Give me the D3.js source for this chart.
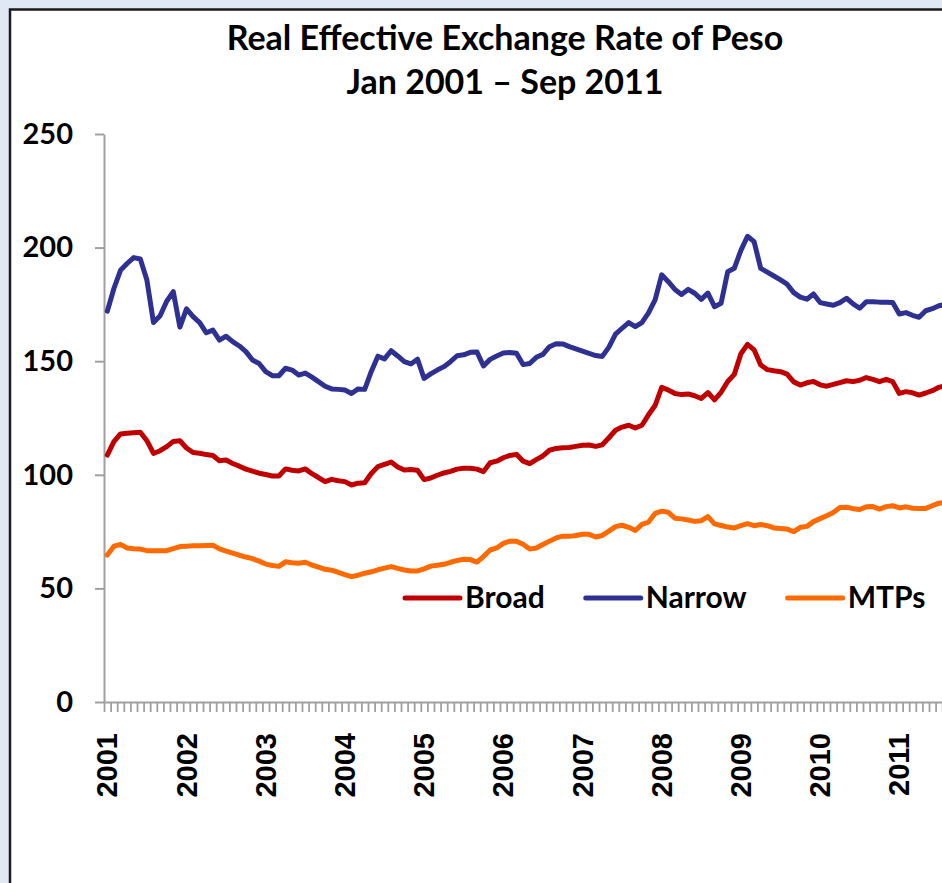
<!DOCTYPE html>
<html>
<head>
<meta charset="utf-8">
<script src="https://cdn.jsdelivr.net/npm/d3@7"></script>
<style>
  body { margin: 0; background: #e1e8f5; }
</style>
</head>
<body>
<script>
// Dimensions de la page
const largeur = 942;
const hauteur = 883;

// Données (indices mensuels, Jan 2001 - Sep 2011)
const annees = ["2001", "2002", "2003", "2004", "2005", "2006", "2007", "2008", "2009", "2010", "2011"];
const nomsSeries = ["Broad", "Narrow", "MTPs"];
const couleursSeries = ["#c00000", "#2e3192", "#ff6a00"];
const ticksY = [0, 50, 100, 150, 200, 250];

const broad = [
  108.7, 114.6, 118, 118.3, 118.5, 118.7, 115, 109.4, 110.6, 112.4, 114.7, 115,
  111.8, 109.8, 109.5, 108.9, 108.5, 106.2, 106.5, 105, 103.8, 102.5, 101.6, 100.7,
  100.1, 99.5, 99.5, 102.6, 102, 101.7, 102.6, 100.5, 98.8, 97, 98, 97.4,
  97, 95.5, 96.3, 96.5, 100.6, 103.6, 104.6, 105.6, 103.4, 102.1, 102.3, 102,
  97.9, 98.6, 99.8, 100.8, 101.5, 102.5, 102.9, 102.9, 102.5, 101.4, 105.3, 106,
  107.5, 108.5, 109, 106, 104.9, 106.7, 108.3, 110.8, 111.6, 111.9, 112, 112.5,
  113, 113.1, 112.5, 113.2, 116.3, 119.6, 121, 121.8, 120.6, 121.8, 126.4, 130.5,
  138.5, 137.3, 135.8, 135.3, 135.6, 134.8, 133.6, 136.2, 133, 136.3, 141.1, 144.2,
  153.3, 157.4, 155, 148.3, 146.3, 145.8, 145.4, 144.3, 140.9, 139.5, 140.5, 141.1,
  139.6, 139, 139.8, 140.6, 141.4, 141, 141.6, 142.8, 142, 141, 142, 141,
  135.8, 136.6, 136.1, 135.1, 136, 137, 138.5, 139.3, 140
];

const narrow = [
  172, 182, 190, 193, 195.6, 195, 185.7, 167, 170, 176.4, 180.6, 165,
  173, 169.6, 167, 162.5, 163.7, 159.3, 161, 158.6, 156.7, 154.2, 150.5, 149,
  145.4, 143.6, 143.6, 146.9, 146.1, 143.9, 144.8, 143, 141, 139, 137.8, 137.6,
  137.3, 135.8, 137.8, 137.6, 145.5, 152.2, 151, 154.6, 152.3, 149.8, 148.8, 150.9,
  142.4, 144.4, 146.1, 147.6, 149.8, 152.4, 152.8, 153.9, 154.1, 147.9, 150.8, 152.3,
  153.6, 153.8, 153.5, 148.5, 149, 151.7, 153, 156.4, 157.7, 157.6, 156.4, 155.4,
  154.4, 153.4, 152.5, 152.1, 156.2, 161.9, 164.5, 167, 165.2, 167, 171.3, 177,
  188, 185, 181.6, 179.4, 181.6, 179.9, 177.2, 180, 174, 175.5, 189.4, 190.9,
  198.8, 205, 202.6, 190.9, 189.2, 187.5, 185.8, 183.9, 180.2, 178.2, 177.3, 179.6,
  175.8, 175.2, 174.6, 175.8, 177.7, 175.2, 173.3, 176.2, 176.2, 176, 175.9, 175.8,
  170.8, 171.4, 170.2, 169.3, 172.2, 173.1, 174.4, 175, 175.5
];

const mtps = [
  64.7, 68.6, 69.4, 67.8, 67.5, 67.3, 66.6, 66.6, 66.6, 66.6, 67.5, 68.4,
  68.6, 68.8, 68.8, 68.9, 69, 67.4, 66.4, 65.5, 64.6, 63.8, 63.1, 62,
  60.7, 60.1, 59.7, 61.7, 61.3, 61.1, 61.5, 60.3, 59.4, 58.4, 58, 57.1,
  56.1, 55.2, 55.8, 56.7, 57.3, 58.2, 58.9, 59.6, 58.8, 58.1, 57.7, 57.7,
  58.6, 59.8, 60.2, 60.6, 61.5, 62.3, 62.8, 62.7, 61.6, 64, 66.9, 67.8,
  69.8, 70.8, 70.7, 69.4, 67.3, 67.8, 69.3, 70.8, 72.2, 73, 72.9, 73.3,
  73.8, 73.8, 72.6, 73.3, 75.2, 77.2, 77.8, 76.9, 75.5, 78.2, 79.2, 83,
  84, 83.5, 80.9, 80.6, 80.1, 79.5, 79.8, 81.6, 78.4, 77.7, 77, 76.6,
  77.6, 78.5, 77.6, 78.1, 77.6, 76.6, 76.4, 76.1, 75, 76.9, 77.3, 79.4,
  80.7, 82, 83.4, 85.6, 85.7, 85.1, 84.7, 85.9, 86, 84.9, 86, 86.4,
  85.4, 85.9, 85.3, 85.2, 85.2, 86.4, 87.5, 88, 88
];

const series = [broad, narrow, mtps];
const nbMois = broad.length;

// Zone du graphique
const gauche = 104;
const largeurMois = 6.6;
const haut = 134;
const bas = 702;

const svg = d3.select("body").append("svg")
    .attr("width", largeur)
    .attr("height", hauteur)
    .style("display", "block");

// fond + cadre
svg.append("rect")
    .attr("width", largeur)
    .attr("height", hauteur)
    .attr("fill", "#e1e8f5");

svg.append("rect")
    .attr("x", 10)
    .attr("y", 9.5)
    .attr("width", 1000)
    .attr("height", 1000)
    .attr("fill", "white")
    .attr("stroke", "#1a1a1a")
    .attr("stroke-width", 2.5);

// Echelles
const x = d3.scaleLinear()
    .domain([0, nbMois])
    .range([gauche, gauche + nbMois * largeurMois]);

const y = d3.scaleLinear()
    .domain([0, 250])
    .range([bas, haut]);

// Titre
const titre = svg.append("text")
    .attr("x", 505)
    .attr("text-anchor", "middle")
    .style("font-family", "Lato, 'Open Sans', sans-serif")
    .style("font-weight", "bold")
    .style("font-size", "34px")
    .attr("fill", "#000");
titre.append("tspan").attr("x", 505).attr("y", 50).text("Real Effective Exchange Rate of Peso");
titre.append("tspan").attr("x", 505).attr("y", 94).text("Jan 2001 \u2013 Sep 2011");

// Axe Y
const axeY = svg.append("g")
    .attr("transform", `translate(${gauche},0)`)
    .call(d3.axisLeft(y).tickValues(ticksY).tickSize(9).tickPadding(22).tickSizeOuter(0));
axeY.select(".domain").attr("stroke", "#a0a0a0").attr("stroke-width", 2);
axeY.selectAll(".tick line").attr("stroke", "#a0a0a0").attr("stroke-width", 2);
axeY.selectAll(".tick text")
    .style("font-family", "Lato, 'Open Sans', sans-serif")
    .style("font-weight", "bold")
    .style("font-size", "29px")
    .attr("fill", "#000");

// Axe X : un tick par mois
const axeX = svg.append("g")
    .attr("transform", `translate(0,${bas})`)
    .call(d3.axisBottom(x).tickValues(d3.range(0, nbMois + 1)).tickSize(10).tickSizeOuter(0).tickFormat(""));
axeX.select(".domain").attr("stroke", "#a0a0a0").attr("stroke-width", 2);
axeX.selectAll(".tick line").attr("stroke", "#a0a0a0").attr("stroke-width", 1.8);

// Libellés des années (tournés)
svg.append("g").selectAll("text")
    .data(annees)
    .join("text")
    .attr("transform", (d, i) => `translate(${x(i * 12 + 0.5)},733) rotate(-90)`)
    .attr("text-anchor", "end")
    .attr("dy", "0.35em")
    .style("font-family", "'Liberation Sans', Arial, sans-serif")
    .style("font-weight", "bold")
    .style("font-size", "29px")
    .attr("fill", "#000")
    .text(d => d);

// Courbes
const ligne = d3.line()
    .x((d, i) => x(i + 0.5))
    .y(d => y(d));

series.forEach((s, k) => {
    svg.append("path")
        .datum(s)
        .attr("d", ligne)
        .attr("fill", "none")
        .attr("stroke", couleursSeries[k])
        .attr("stroke-width", 5)
        .attr("stroke-linejoin", "round")
        .attr("stroke-linecap", "round");
});

// Légende
let posLegende = 405;
const yLegende = 598;
nomsSeries.forEach((nom, k) => {
    svg.append("line")
        .attr("x1", posLegende)
        .attr("x2", posLegende + 55)
        .attr("y1", yLegende)
        .attr("y2", yLegende)
        .attr("stroke", couleursSeries[k])
        .attr("stroke-width", 5)
        .attr("stroke-linecap", "round");
    const t = svg.append("text")
        .attr("x", posLegende + 60)
        .attr("y", 608)
        .style("font-family", "Lato, 'Open Sans', sans-serif")
        .style("font-weight", "bold")
        .style("font-size", "30px")
        .attr("fill", "#000")
        .text(nom);
    posLegende += 60 + t.node().getComputedTextLength() + 41;
});
</script>
</body>
</html>
